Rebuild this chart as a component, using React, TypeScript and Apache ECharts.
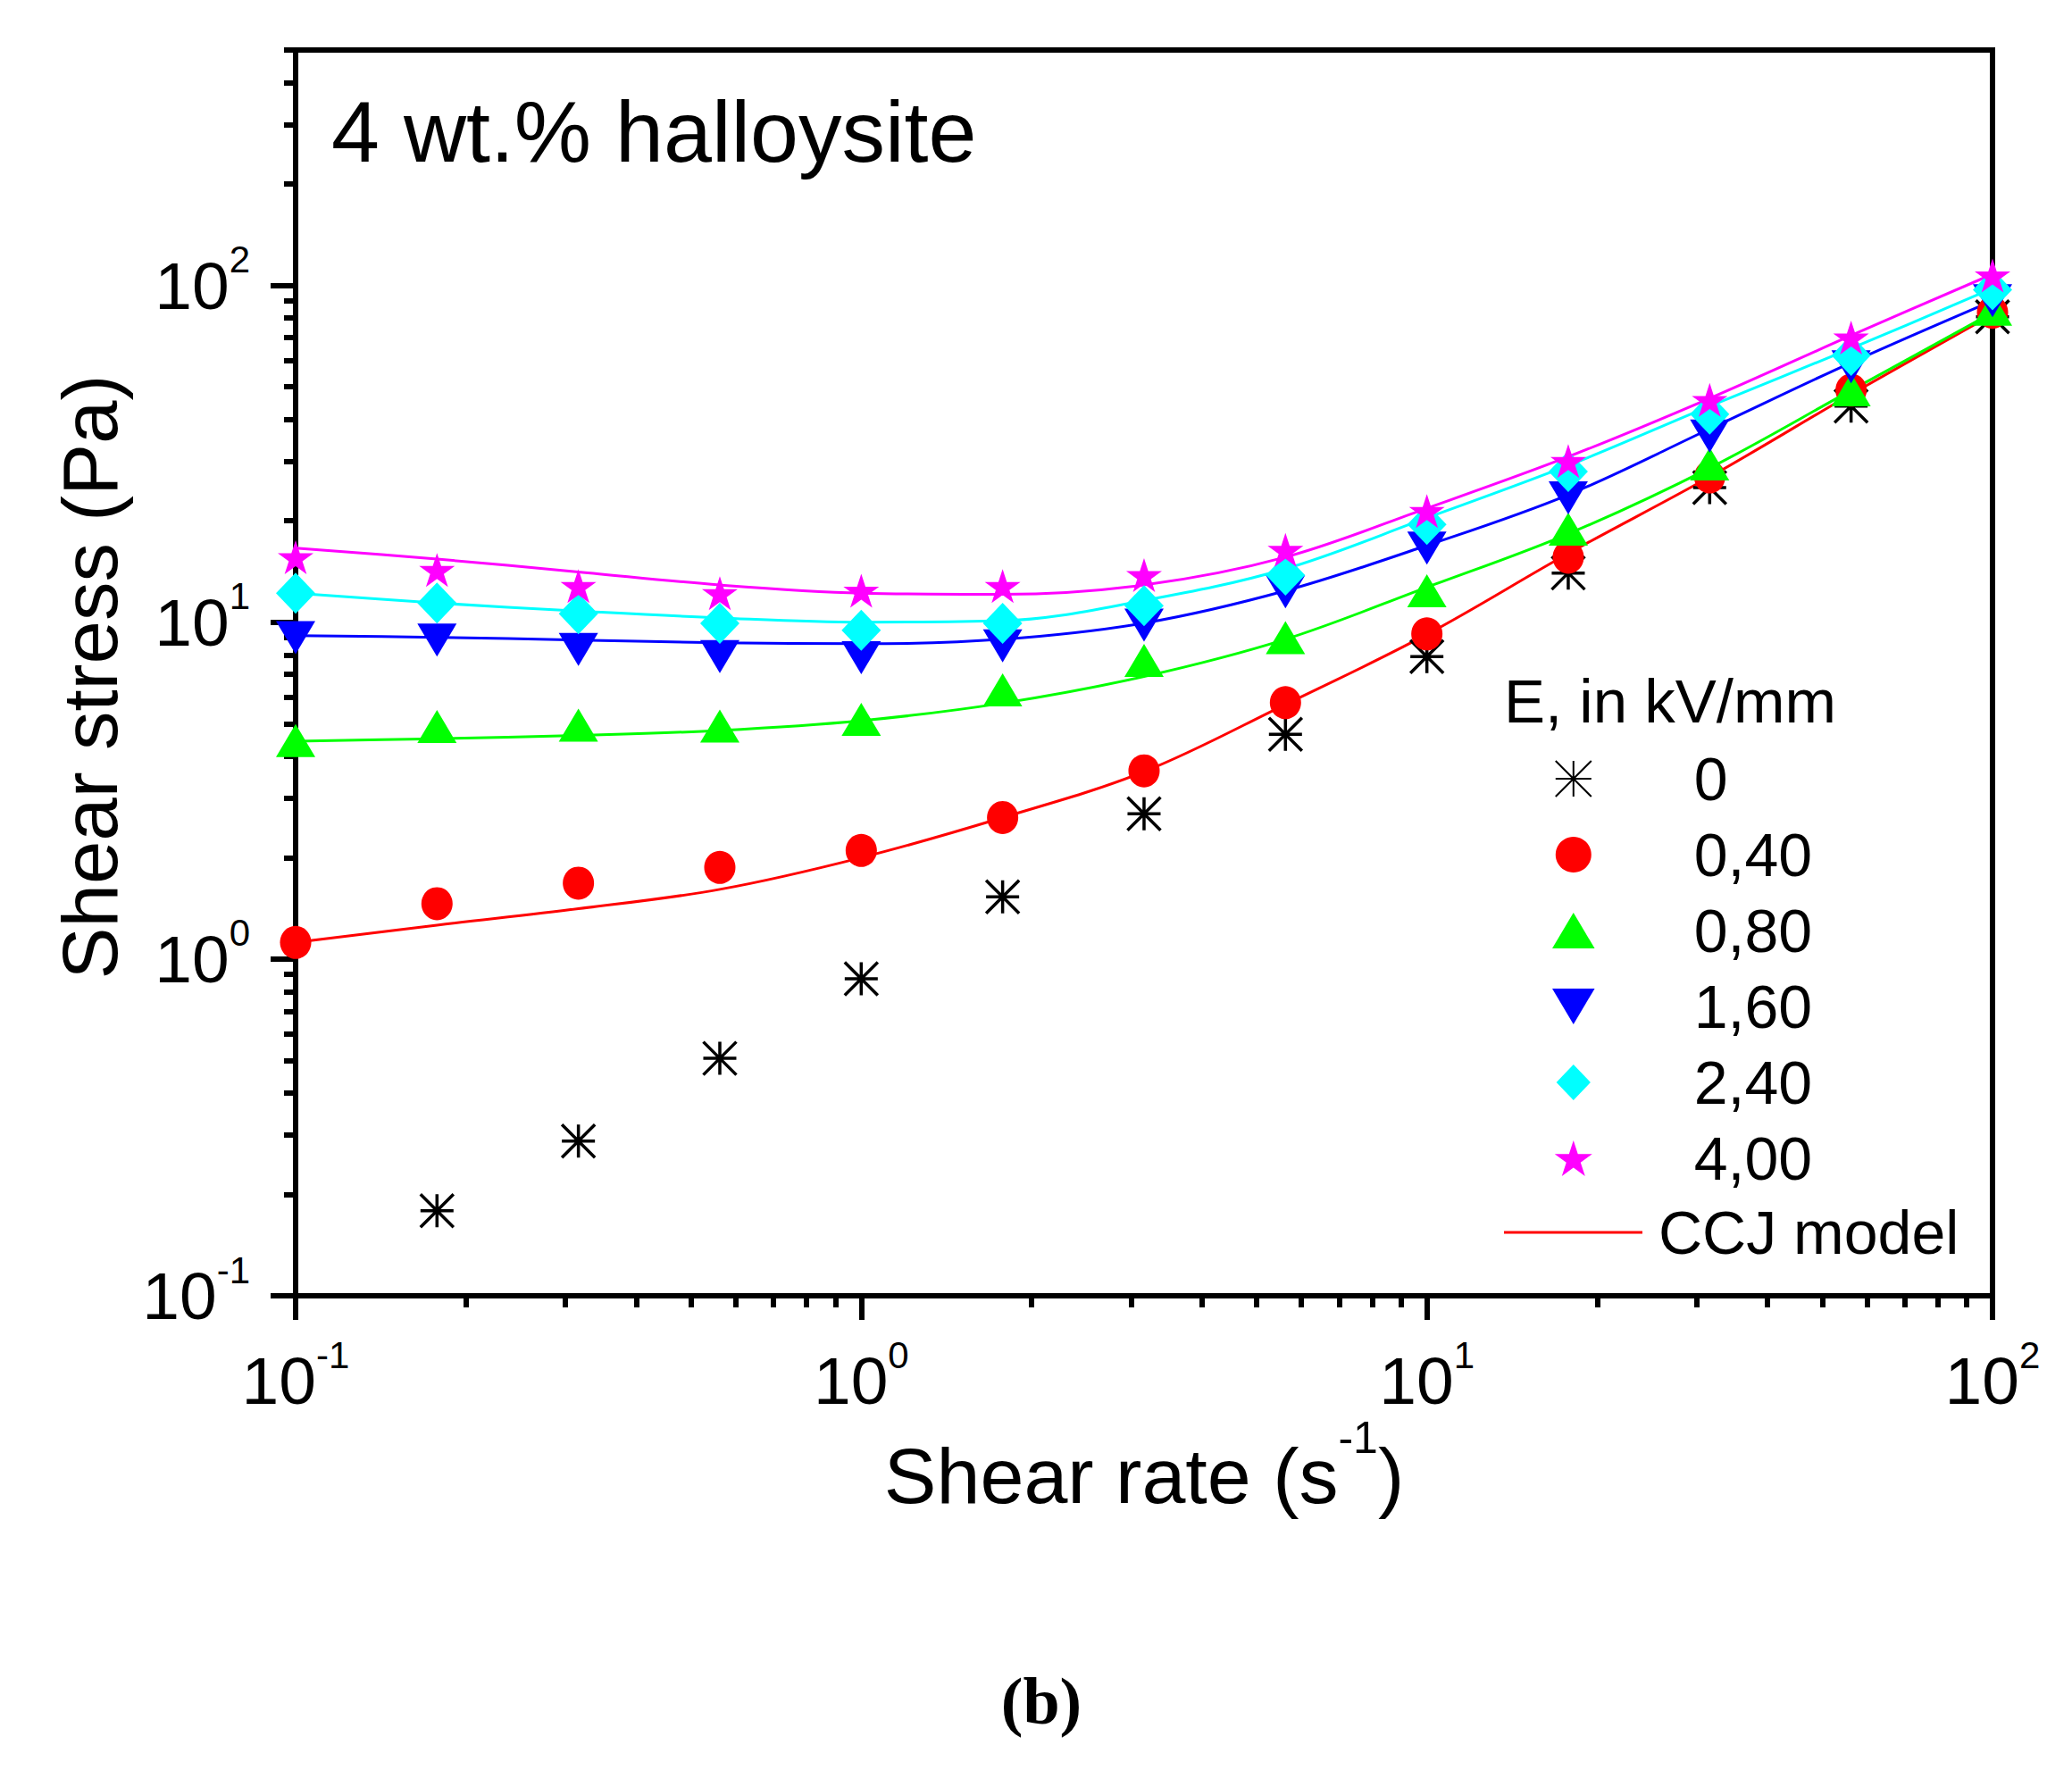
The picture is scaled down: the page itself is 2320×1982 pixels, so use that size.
import React, { useEffect, useRef } from 'react';
import * as echarts from 'echarts';

// ---------- data ----------
const shearRate = [0.1, 0.1778, 0.3162, 0.5623, 1, 1.778, 3.162, 5.623, 10, 17.78, 31.62, 56.23, 100];

const stressE000 = [null, 0.179, 0.288, 0.507, 0.874, 1.53, 2.7, 4.65, 7.9, 14.0, 25.1, 43.8, 80.7];
const stressE040 = [1.12, 1.46, 1.68, 1.87, 2.1, 2.63, 3.62, 5.77, 9.23, 15.6, 27.0, 48.9, 83.2];
const stressE080 = [4.45, 4.9, 4.95, 4.92, 5.15, 6.3, 7.7, 9.0, 12.4, 18.9, 29.5, 49, 85];
const stressE160 = [9.0, 8.85, 8.3, 7.9, 7.85, 8.5, 9.8, 12.3, 16.6, 23.4, 35.7, 57.3, 90];
const stressE240 = [12.2, 11.4, 10.6, 9.93, 9.46, 9.93, 11.2, 13.8, 19.5, 28, 41.5, 62, 97];
const stressE400 = [15.6, 14.3, 12.8, 12.2, 12.4, 12.8, 13.8, 16.4, 21.4, 30.1, 45.7, 70, 107];

// CCJ model fits
const fitE040 = [1.12, 1.26, 1.41, 1.61, 2.0, 2.63, 3.6, 5.7, 9.2, 16, 27, 47.5, 82];
const fitE080 = [4.43, 4.51, 4.61, 4.77, 5.1, 5.75, 6.9, 8.9, 12.7, 18.3, 28.7, 48.8, 83];
const fitE160 = [9.12, 9.02, 8.85, 8.69, 8.63, 8.9, 9.94, 12.4, 16.9, 23.9, 37.5, 59, 90];
const fitE240 = [12.2, 11.4, 10.8, 10.3, 10.0, 10.1, 11.6, 14.4, 20.4, 29.2, 43.8, 65, 98];
const fitE400 = [16.6, 15.4, 14.1, 12.9, 12.2, 12.1, 12.9, 15.6, 21.8, 31, 46.2, 71, 108];

const legendLabels = ['0', '0,40', '0,80', '1,60', '2,40', '4,00'];
const fitLabel = 'CCJ model';

// axis ticks
const xMajorTicks = [0.1, 1, 10, 100];
const xMinorTicks = [0.2, 0.3, 0.4, 0.5, 0.6, 0.7, 0.8, 0.9, 2, 3, 4, 5, 6, 7, 8, 9, 20, 30, 40, 50, 60, 70, 80, 90];
const yMajorTicks = [0.1, 1, 10, 100];
const yMinorTicks = [0.2, 0.3, 0.4, 0.5, 0.6, 0.7, 0.8, 0.9, 2, 3, 4, 5, 6, 7, 8, 9, 20, 30, 40, 50, 60, 70, 80, 90, 200, 300, 400, 500];

// ---------- styling ----------
const FONT = '"Liberation Sans", Arial, Helvetica, sans-serif';
const RED = '#ff0000';
const GREEN = '#00ff00';
const BLUE = '#0000ff';
const CYAN = '#00ffff';
const MAGENTA = '#ff00ff';

const ASTERISK = 'path://M18.5,0 L18.5,37 M0,18.5 L37,18.5 M0,0 L37,37 M0,37 L37,0';
const STAR = 'path://M0,-1 L0.2245,-0.309 L0.951,-0.309 L0.363,0.118 L0.588,0.809 L0,0.382 L-0.588,0.809 L-0.363,0.118 L-0.951,-0.309 L-0.2245,-0.309 Z';
const UP_TRIANGLE = 'path://M22,0 L44,37 L0,37 Z';
const DOWN_TRIANGLE = 'path://M0,0 L44,0 L22,37 Z';
const DIAMOND = 'path://M22,0 L44,23 L22,46 L0,23 Z';
const LEGEND_LINE = 'path://M0,0 L155,0 L155,3 L0,3 Z';

const pairs = (ys: (number | null)[]) =>
  shearRate.map((x, i) => [x, ys[i]]).filter((p) => p[1] !== null);

const powLabel = (v: number) => {
  const e = Math.round(Math.log10(v));
  return `{b|10}{s|${e}}`;
};

const tickRich = {
  b: { fontSize: 75, lineHeight: 100, fontFamily: FONT, color: '#000' },
  s: { fontSize: 42, lineHeight: 42, fontFamily: FONT, color: '#000', verticalAlign: 'top' },
};

export default function App() {
  const ref = useRef<HTMLDivElement>(null);

  useEffect(() => {
    if (!ref.current) return;
    const chart = echarts.init(ref.current, undefined, { renderer: 'svg' });

    const fitSeries = (name: string, ys: number[], color: string) => ({
      type: 'line',
      name,
      data: pairs(ys),
      smooth: 0.35,
      symbol: 'none',
      showSymbol: false,
      lineStyle: { color, width: 3 },
      itemStyle: { color },
      xAxisIndex: 0,
      yAxisIndex: 0,
      z: 2,
    });

    const scatterSeries = (name: string, ys: (number | null)[], color: string, symbol: string, size: number[] | number, extra: any = {}) => ({
      type: 'scatter',
      name,
      data: pairs(ys),
      symbol,
      symbolSize: size,
      itemStyle: { color, opacity: 1, ...extra },
      xAxisIndex: 0,
      yAxisIndex: 0,
      z: 3,
    });

    const option: any = {
      animation: false,
      backgroundColor: '#fff',
      grid: {
        left: 331,
        right: 89,
        top: 56,
        bottom: 531,
        show: true,
        borderColor: '#000',
        borderWidth: 6,
        backgroundColor: 'transparent',
        containLabel: false,
      },
      xAxis: [
        {
          type: 'log',
          logBase: 10,
          min: 0.1,
          max: 100,
          position: 'bottom',
          axisLine: { show: true, lineStyle: { color: '#000', width: 6 } },
          axisTick: { show: true, customValues: xMajorTicks, length: 27, lineStyle: { color: '#000', width: 6 } },
          axisLabel: {
            show: true,
            customValues: xMajorTicks,
            margin: 45,
            formatter: powLabel,
            rich: tickRich,
          },
          splitLine: { show: false },
          minorTick: { show: false },
        },
        {
          type: 'log',
          logBase: 10,
          min: 0.1,
          max: 100,
          position: 'bottom',
          axisLine: { show: false },
          axisTick: { show: true, customValues: xMinorTicks, length: 13, lineStyle: { color: '#000', width: 6 } },
          axisLabel: { show: false },
          splitLine: { show: false },
        },
      ],
      yAxis: [
        {
          type: 'log',
          logBase: 10,
          min: 0.1,
          max: 500,
          position: 'left',
          axisLine: { show: true, lineStyle: { color: '#000', width: 6 } },
          axisTick: { show: true, customValues: yMajorTicks, length: 28, lineStyle: { color: '#000', width: 6 } },
          axisLabel: {
            show: true,
            customValues: yMajorTicks,
            margin: 51,
            formatter: powLabel,
            rich: tickRich,
          },
          splitLine: { show: false },
        },
        {
          type: 'log',
          logBase: 10,
          min: 0.1,
          max: 500,
          position: 'left',
          axisLine: { show: false },
          axisTick: { show: true, customValues: yMinorTicks, length: 13, lineStyle: { color: '#000', width: 6 } },
          axisLabel: { show: false },
          splitLine: { show: false },
        },
      ],
      legend: [
        {
          orient: 'vertical',
          left: 1738,
          top: 838,
          padding: 0,
          itemWidth: 260,
          itemHeight: 40,
          itemGap: 17,
          selectedMode: false,
          data: [
            { name: legendLabels[0], icon: ASTERISK },
            { name: legendLabels[1], icon: 'circle' },
            { name: legendLabels[2], icon: UP_TRIANGLE },
            { name: legendLabels[3], icon: DOWN_TRIANGLE },
            { name: legendLabels[4], icon: DIAMOND },
            { name: legendLabels[5], icon: STAR },
          ],
          textStyle: { fontSize: 68, lineHeight: 68, fontFamily: FONT, color: '#000' },
        },
        {
          orient: 'vertical',
          left: 1684,
          top: 1346,
          padding: 0,
          itemWidth: 155,
          itemHeight: 40,
          selectedMode: false,
          data: [{ name: fitLabel, icon: LEGEND_LINE }],
          itemStyle: { color: RED, borderWidth: 0 },
          textStyle: { fontSize: 68, lineHeight: 68, fontFamily: FONT, color: '#000', padding: [0, 0, 0, 13] },
        },
      ],
      graphic: [
        {
          type: 'text',
          x: 371,
          y: 147,
          style: {
            text: '4 wt.% halloysite',
            fontSize: 97,
            fontFamily: FONT,
            fill: '#000',
            textAlign: 'left',
            textVerticalAlign: 'middle',
          },
        },
        {
          type: 'text',
          x: 1684,
          y: 785,
          style: {
            text: 'E, in kV/mm',
            fontSize: 69,
            fontFamily: FONT,
            fill: '#000',
            textAlign: 'left',
            textVerticalAlign: 'middle',
          },
        },
        {
          type: 'text',
          x: 100,
          y: 758,
          rotation: Math.PI / 2,
          style: {
            text: 'Shear stress (Pa)',
            fontSize: 87,
            fontFamily: FONT,
            fill: '#000',
            textAlign: 'center',
            textVerticalAlign: 'middle',
          },
        },
        {
          type: 'text',
          x: 1281,
          y: 1652,
          style: {
            text: '{a|Shear rate (s}{s|-1}{a|)}',
            rich: {
              a: { fontSize: 88, lineHeight: 134, fontFamily: FONT, color: '#000' },
              s: { fontSize: 50, lineHeight: 52, fontFamily: FONT, color: '#000', verticalAlign: 'top' },
            },
            textAlign: 'center',
            textVerticalAlign: 'middle',
          },
        },
        {
          type: 'text',
          x: 1166,
          y: 1905,
          style: {
            text: '(b)',
            fontSize: 74,
            fontWeight: 'bold',
            fontFamily: '"Liberation Serif", "Times New Roman", serif',
            fill: '#000',
            textAlign: 'center',
            textVerticalAlign: 'middle',
          },
        },
      ],
      series: [
        fitSeries(fitLabel, fitE040, RED),
        fitSeries('fit 0,80', fitE080, GREEN),
        fitSeries('fit 1,60', fitE160, BLUE),
        fitSeries('fit 2,40', fitE240, CYAN),
        fitSeries('fit 4,00', fitE400, MAGENTA),
        scatterSeries(legendLabels[0], stressE000, '#000', ASTERISK, [37, 37], { borderColor: '#000', borderWidth: 3.5 }),
        scatterSeries(legendLabels[1], stressE040, RED, 'circle', [35, 37]),
        scatterSeries(legendLabels[2], stressE080, GREEN, UP_TRIANGLE, [44, 37]),
        scatterSeries(legendLabels[3], stressE160, BLUE, DOWN_TRIANGLE, [44, 37]),
        scatterSeries(legendLabels[4], stressE240, CYAN, DIAMOND, [44, 46]),
        scatterSeries(legendLabels[5], stressE400, MAGENTA, STAR, [40, 38]),
      ],
    };

    chart.setOption(option);
    return () => chart.dispose();
  }, []);

  return (
    <div
      ref={ref}
      style={{ position: 'fixed', left: 0, top: 0, width: 2320, height: 1982, background: '#fff' }}
    />
  );
}
